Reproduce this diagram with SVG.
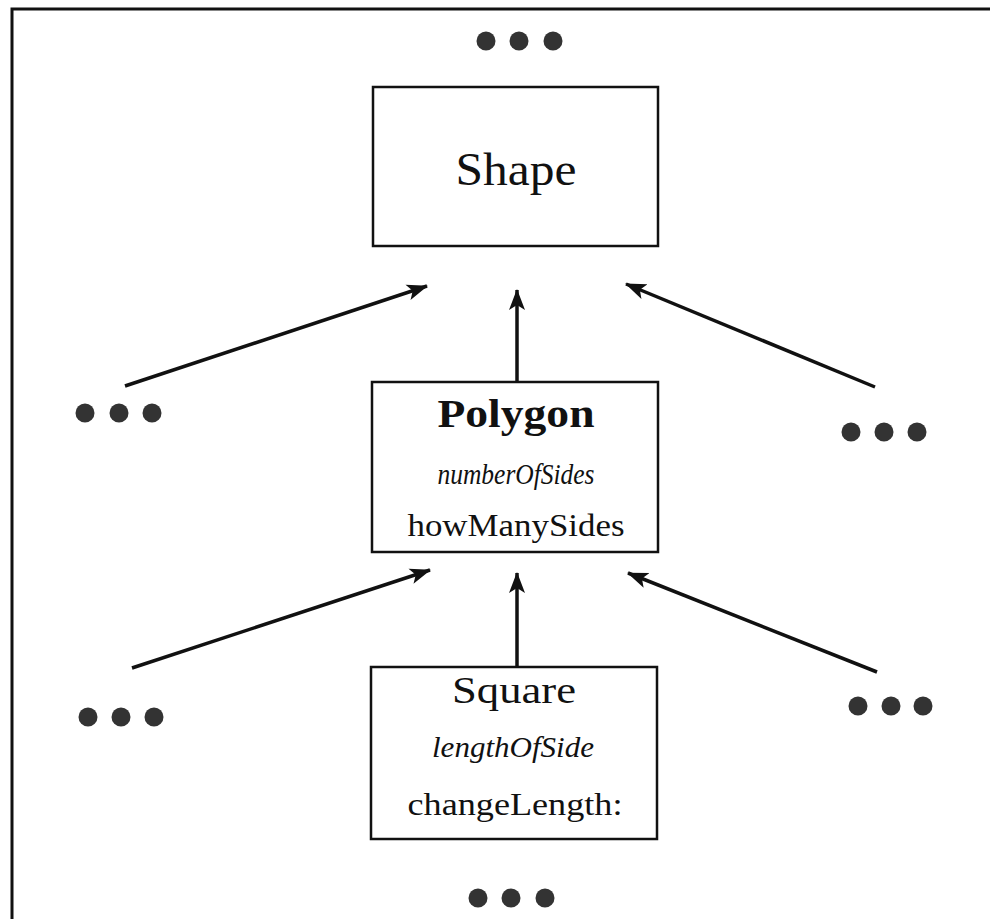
<svg xmlns="http://www.w3.org/2000/svg" width="990" height="919" viewBox="0 0 990 919">
<defs>
<style>
.box{fill:#fff;stroke:#111;stroke-width:2.5}
.t{font-family:"Liberation Serif","Times New Roman",serif;fill:#111;text-anchor:middle}
.it{font-style:italic}
.dot{fill:#333}
.edge{stroke:#111;stroke-width:3.5;fill:none;marker-end:url(#ah)}
</style>
<marker id="ah" markerUnits="userSpaceOnUse" markerWidth="22" markerHeight="20" refX="20" refY="10" orient="auto">
<path d="M0,2 L21,10 L0,18 L5,10 Z" fill="#111"/>
</marker>
</defs>
<rect width="990" height="919" fill="#fff"/>
<path d="M12,919 L12,9 L990,9" fill="none" stroke="#111" stroke-width="3"/>
<g id="edges">
<line class="edge" x1="125" y1="386" x2="427" y2="286"/>
<line class="edge" x1="517" y1="382" x2="517" y2="290"/>
<line class="edge" x1="875" y1="387" x2="626" y2="284"/>
<line class="edge" x1="132" y1="668" x2="430" y2="570"/>
<line class="edge" x1="517" y1="667" x2="517" y2="573"/>
<line class="edge" x1="877" y1="672" x2="628" y2="573"/>
</g>
<g id="shape">
<rect class="box" x="373" y="87" width="285" height="159"/>
<text class="t" x="516" y="185" font-size="46" textLength="121" lengthAdjust="spacingAndGlyphs">Shape</text>
</g>
<g id="polygon">
<rect class="box" x="372" y="382" width="286" height="170"/>
<text class="t" x="516" y="427" font-size="39" font-weight="bold" textLength="157" lengthAdjust="spacingAndGlyphs">Polygon</text>
<text class="t it" x="516" y="484" font-size="30" textLength="157" lengthAdjust="spacingAndGlyphs">numberOfSides</text>
<text class="t" x="516" y="536" font-size="31" textLength="217" lengthAdjust="spacingAndGlyphs">howManySides</text>
</g>
<g id="square">
<rect class="box" x="371" y="667" width="286" height="172"/>
<text class="t" x="514" y="703" font-size="38" textLength="124" lengthAdjust="spacingAndGlyphs">Square</text>
<text class="t it" x="513" y="757" font-size="30" textLength="162" lengthAdjust="spacingAndGlyphs">lengthOfSide</text>
<text class="t" x="515" y="815" font-size="31" textLength="215" lengthAdjust="spacingAndGlyphs">changeLength:</text>
</g>
<g id="dots-top"><circle class="dot" cx="486" cy="41" r="9.5"/><circle class="dot" cx="519" cy="41" r="9.5"/><circle class="dot" cx="553" cy="41" r="9.5"/></g>
<g id="dots-left-mid"><circle class="dot" cx="85" cy="413" r="9.5"/><circle class="dot" cx="119" cy="413" r="9.5"/><circle class="dot" cx="152" cy="413" r="9.5"/></g>
<g id="dots-right-mid"><circle class="dot" cx="851" cy="432" r="9.5"/><circle class="dot" cx="884" cy="432" r="9.5"/><circle class="dot" cx="917" cy="432" r="9.5"/></g>
<g id="dots-left-low"><circle class="dot" cx="88" cy="717" r="9.5"/><circle class="dot" cx="121" cy="717" r="9.5"/><circle class="dot" cx="154" cy="717" r="9.5"/></g>
<g id="dots-right-low"><circle class="dot" cx="858" cy="706" r="9.5"/><circle class="dot" cx="891" cy="706" r="9.5"/><circle class="dot" cx="923" cy="706" r="9.5"/></g>
<g id="dots-bottom"><circle class="dot" cx="478" cy="898" r="9.5"/><circle class="dot" cx="511" cy="898" r="9.5"/><circle class="dot" cx="545" cy="898" r="9.5"/></g>
</svg>
